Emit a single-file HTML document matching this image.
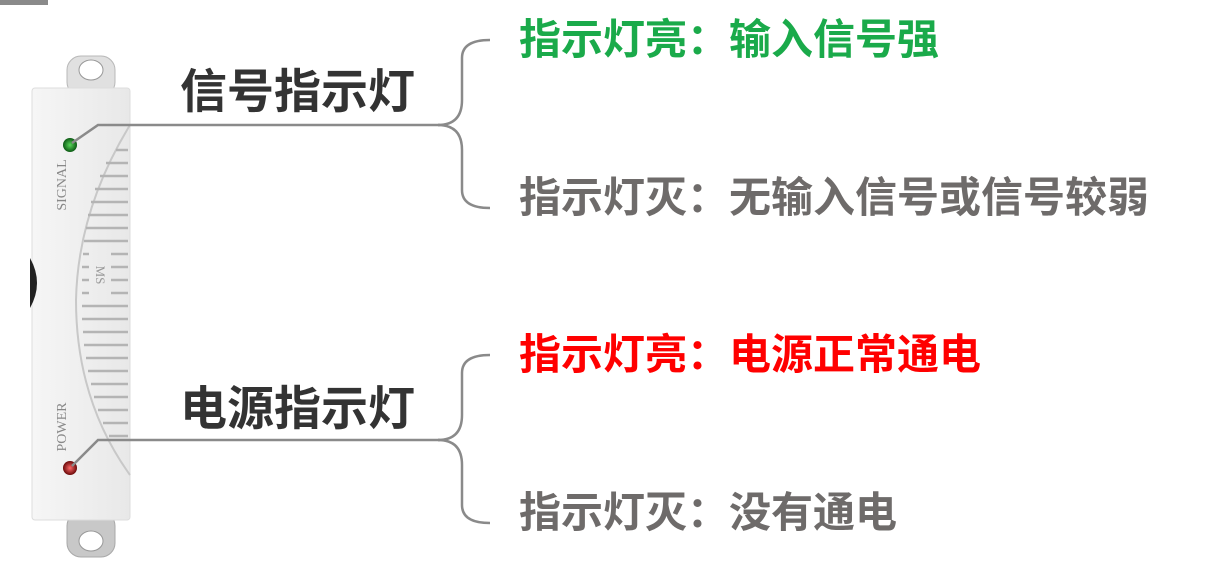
<!DOCTYPE html>
<html><head><meta charset="utf-8"><style>
html,body{margin:0;padding:0;background:#fff;}
body{width:1213px;height:586px;position:relative;overflow:hidden;font-family:"Liberation Sans","Noto Sans CJK SC",sans-serif;}
.t{position:absolute;font-weight:bold;white-space:nowrap;line-height:1;}
.h{font-size:47px;color:#333;}
.s{font-size:42px;}
</style></head><body>
<div style="position:absolute;left:0;top:0;width:48px;height:5px;background:#8a8a8a"></div>
<svg width="1213" height="586" style="position:absolute;left:0;top:0">
 <defs>
  <linearGradient id="b" x1="0" x2="1"><stop offset="0" stop-color="#f6f6f6"/><stop offset="1" stop-color="#e8e8e8"/></linearGradient>
  <radialGradient id="g"><stop offset="0" stop-color="#5ad65a"/><stop offset="1" stop-color="#0c5a14"/></radialGradient>
  <radialGradient id="r"><stop offset="0" stop-color="#ff6a6a"/><stop offset="1" stop-color="#6a0808"/></radialGradient>
 </defs>
 <rect x="67" y="56" width="48" height="40" rx="14" fill="#e0e0e0" stroke="#b8b8b8"/>
 <ellipse cx="91" cy="70" rx="12" ry="10" fill="#fff" stroke="#999"/>
 <rect x="67" y="512" width="48" height="45" rx="14" fill="#c8c8c8" stroke="#a8a8a8"/>
 <ellipse cx="91" cy="541" rx="12" ry="10" fill="#fff" stroke="#999"/>
 <rect x="32" y="88" width="98" height="432" rx="3" fill="url(#b)" stroke="#ddd"/>
 <path d="M30 258 q14 25 0 50 z" fill="#222"/>
 <path d="M130 125 Q78 210 76 300 Q76 400 130 475" fill="none" stroke="#c8c8c8" stroke-width="2"/>
 <g stroke="#b4b4b4" stroke-width="2.5">
  <line x1="116" y1="150" x2="128" y2="150"/><line x1="106" y1="163" x2="128" y2="163"/>
  <line x1="100" y1="176" x2="128" y2="176"/><line x1="95" y1="189" x2="128" y2="189"/>
  <line x1="91" y1="202" x2="128" y2="202"/><line x1="88" y1="215" x2="128" y2="215"/>
  <line x1="86" y1="228" x2="128" y2="228"/><line x1="84" y1="241" x2="128" y2="241"/>
  <line x1="83" y1="254" x2="89" y2="254"/><line x1="111" y1="254" x2="128" y2="254"/>
  <line x1="82" y1="267" x2="89" y2="267"/><line x1="111" y1="267" x2="128" y2="267"/>
  <line x1="82" y1="280" x2="89" y2="280"/><line x1="111" y1="280" x2="128" y2="280"/>
  <line x1="82" y1="293" x2="89" y2="293"/><line x1="111" y1="293" x2="128" y2="293"/>
  <line x1="82" y1="306" x2="128" y2="306"/><line x1="82" y1="319" x2="128" y2="319"/>
  <line x1="83" y1="332" x2="128" y2="332"/><line x1="84" y1="345" x2="128" y2="345"/>
  <line x1="86" y1="358" x2="128" y2="358"/><line x1="88" y1="371" x2="128" y2="371"/>
  <line x1="91" y1="384" x2="128" y2="384"/><line x1="94" y1="397" x2="128" y2="397"/>
  <line x1="98" y1="410" x2="128" y2="410"/><line x1="103" y1="423" x2="128" y2="423"/>
  <line x1="109" y1="436" x2="128" y2="436"/>
 </g>
 <text x="0" y="0" font-size="13" fill="#999" transform="translate(96,275) rotate(90)" text-anchor="middle" font-family="Liberation Serif">MS</text>
 <text x="0" y="0" font-size="14" fill="#888" transform="translate(66,185) rotate(-90)" text-anchor="middle" font-family="Liberation Serif">SIGNAL</text>
 <text x="0" y="0" font-size="14" fill="#888" transform="translate(66,427) rotate(-90)" text-anchor="middle" font-family="Liberation Serif">POWER</text>
 <circle cx="70" cy="145" r="7" fill="url(#g)"/>
 <circle cx="70" cy="468" r="7" fill="url(#r)"/>
 <g fill="none" stroke="#8a8a8a" stroke-width="2.5">
  <path d="M72 143 L98 125 L440 125"/>
  <path d="M438 125 Q462 125 462 100 L462 58 Q462 40 490 40"/>
  <path d="M438 125 Q462 125 462 150 L462 190 Q462 208 490 208"/>
  <path d="M72 466 L98 440 L440 440"/>
  <path d="M438 440 Q462 440 462 415 L462 373 Q462 355 490 355"/>
  <path d="M438 440 Q462 440 462 465 L462 505 Q462 523 490 523"/>
 </g>
</svg>
<div class="t h" style="left:180px;top:68px">信号指示灯</div>
<div class="t h" style="left:180px;top:385px">电源指示灯</div>
<div class="t s" style="left:519px;top:19px;color:#1aaa4a">指示灯亮：输入信号强</div>
<div class="t s" style="left:519px;top:177px;color:#6e6b6a">指示灯灭：无输入信号或信号较弱</div>
<div class="t s" style="left:519px;top:334px;color:#ff0000">指示灯亮：电源正常通电</div>
<div class="t s" style="left:519px;top:492px;color:#6e6b6a">指示灯灭：没有通电</div>
</body></html>
